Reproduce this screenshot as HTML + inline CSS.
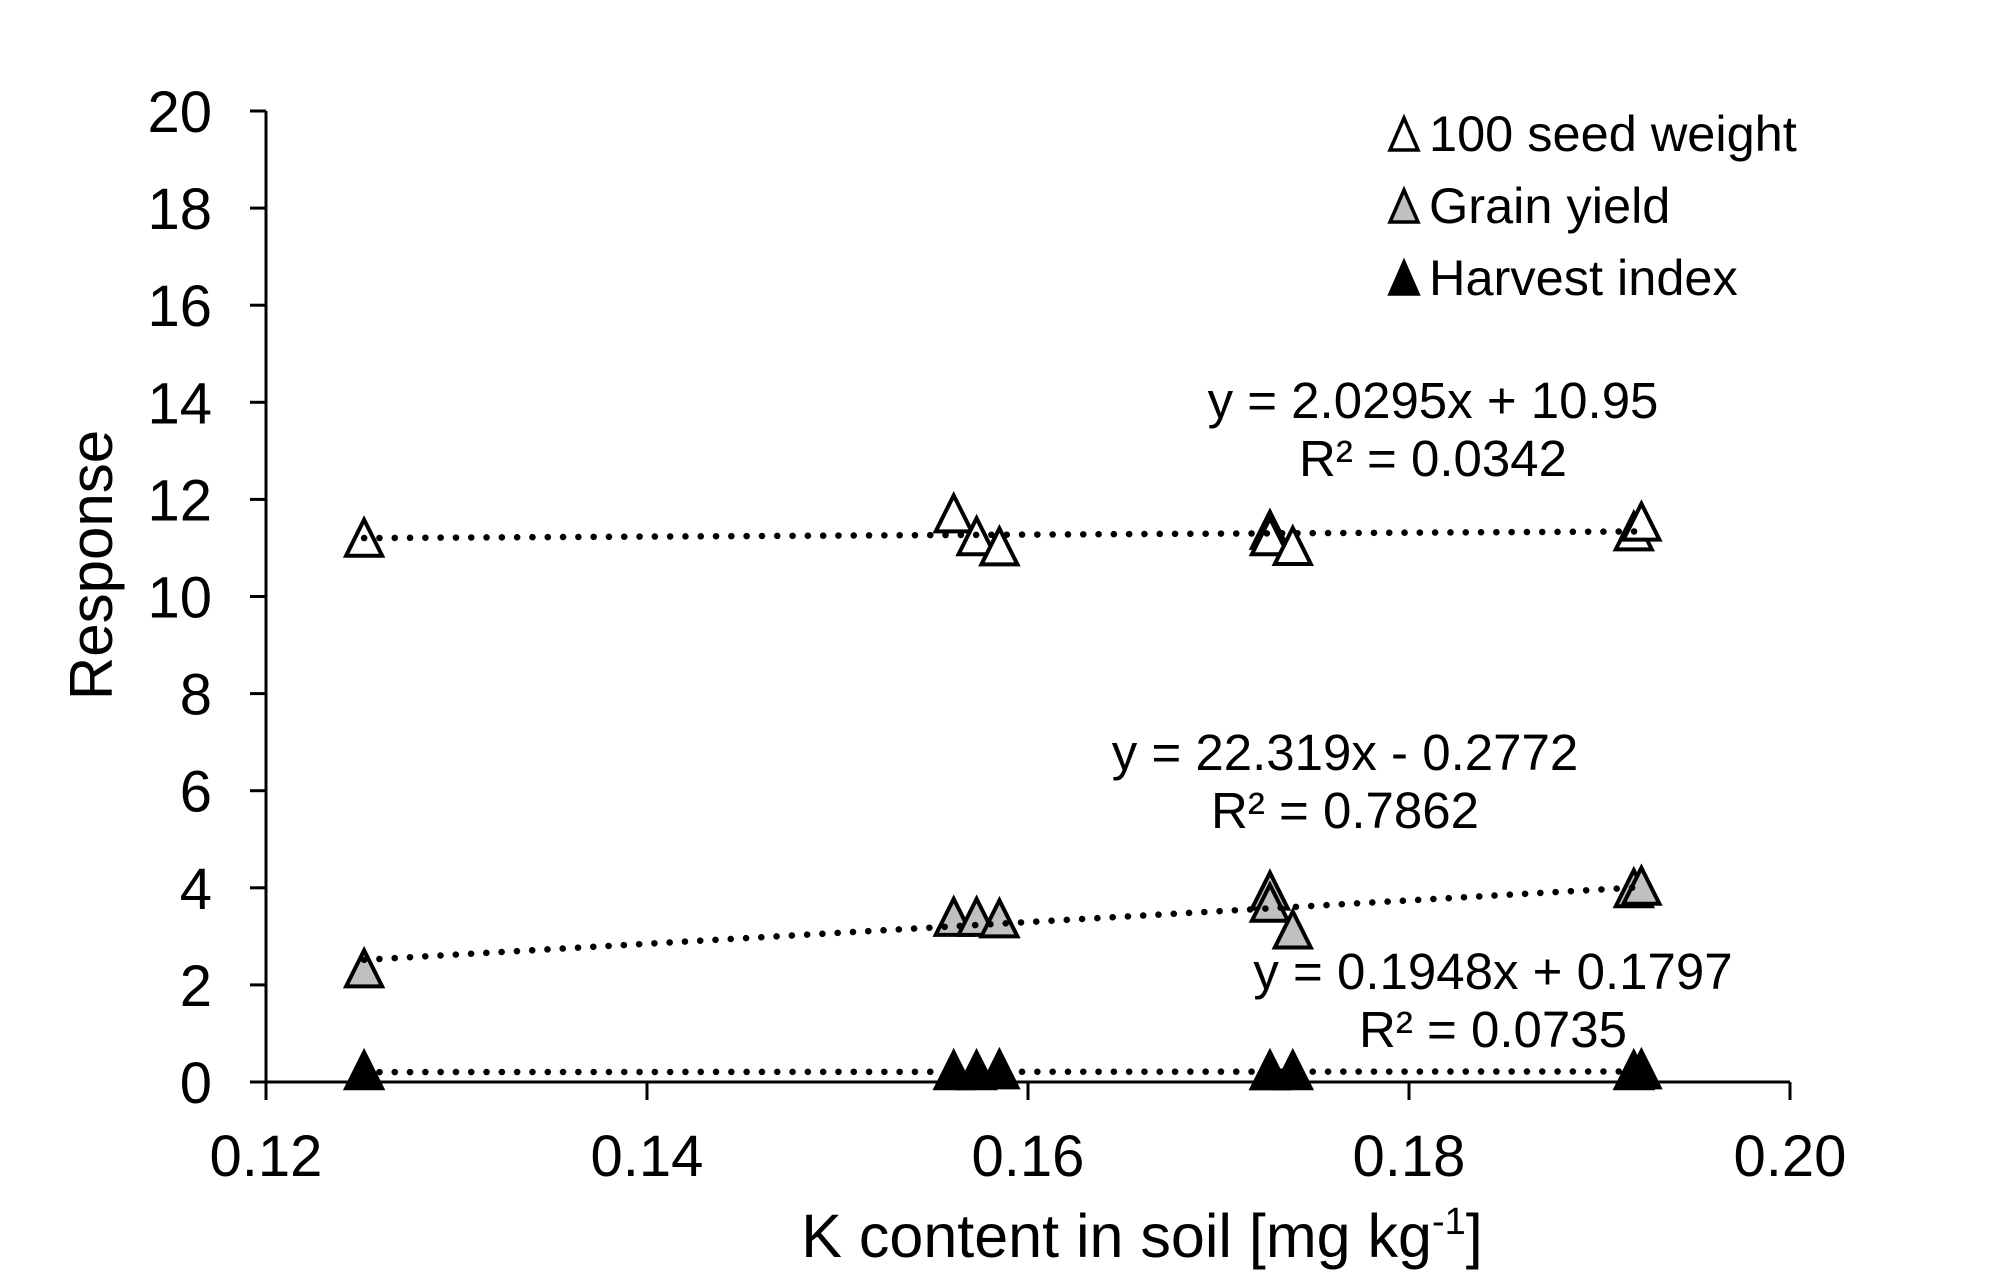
<!DOCTYPE html>
<html><head><meta charset="utf-8"><style>
html,body{margin:0;padding:0;background:#fff}
svg{display:block}
text{font-family:"Liberation Sans",Arial,sans-serif;fill:#000}
</style></head><body>
<svg id="chart" width="2000" height="1282" viewBox="0 0 2000 1282">
<g id="axes"></g>
<g id="lines"></g>
<g id="marks"></g>
<text x="96" y="565" font-size="60" text-anchor="middle" transform="rotate(-90 96 565)" dominant-baseline="middle">Response</text>
<text x="1142" y="1257" font-size="61" text-anchor="middle">K content in soil [mg kg<tspan font-size="38" dy="-23">-1</tspan><tspan dy="23">]</tspan></text>
<g>
 <polygon points="1404,118 1390,150 1418,150" fill="#fff" stroke="#000" stroke-width="3.5"/>
 <text x="1429" y="151" font-size="50.5">100 seed weight</text>
 <polygon points="1404,190 1390,222 1418,222" fill="#c0c0c0" stroke="#000" stroke-width="3.5"/>
 <text x="1429" y="223" font-size="50.5">Grain yield</text>
 <polygon points="1404,262 1390,294 1418,294" fill="#000" stroke="#000" stroke-width="3.5"/>
 <text x="1429" y="295" font-size="50.5">Harvest index</text>
</g>
<g font-size="51" text-anchor="middle">
 <text x="1433" y="418">y = 2.0295x + 10.95</text>
 <text x="1433" y="476">R² = 0.0342</text>
 <text x="1345" y="770">y = 22.319x - 0.2772</text>
 <text x="1345" y="828">R² = 0.7862</text>
 <text x="1493" y="989">y = 0.1948x + 0.1797</text>
 <text x="1493" y="1047">R² = 0.0735</text>
</g>
</svg>
<script>
const xValues = [0.12515, 0.1561, 0.1573, 0.1585, 0.1727, 0.1727, 0.1739, 0.1918, 0.1922];
const seedWeight = [11.17, 11.67, 11.2, 10.99, 11.33, 11.2, 11.0, 11.3, 11.5];
const grainYield = [2.3, 3.36, 3.36, 3.33, 3.9, 3.65, 3.1, 3.95, 4.0];
const harvestIndex = [0.2, 0.2, 0.2, 0.22, 0.2, 0.2, 0.2, 0.2, 0.22];
const xTicks = [0.12, 0.14, 0.16, 0.18, 0.20];
const xTickLabels = ["0.12", "0.14", "0.16", "0.18", "0.20"];
const yTicks = [0, 2, 4, 6, 8, 10, 12, 14, 16, 18, 20];
const trendSlopes = [2.0295, 22.319, 0.1948];
const trendIntercepts = [10.95, -0.2772, 0.1797];

const NS = "http://www.w3.org/2000/svg";
const X0 = 266, X1 = 1790, Y0 = 1082, Y1 = 111;
const xScale = v => X0 + (v - 0.12) / 0.08 * (X1 - X0);
const yScale = v => Y0 - v / 20 * (Y0 - Y1);
function mk(tag, attrs, parent) {
  const e = document.createElementNS(NS, tag);
  for (const k in attrs) e.setAttribute(k, attrs[k]);
  parent.appendChild(e);
  return e;
}
const axes = document.getElementById('axes');
let e = mk('line', {x1: X0, y1: Y1, x2: X0, y2: Y0, stroke: '#000', 'stroke-width': 3}, axes);


e = mk('line', {x1: X0 - 16, y1: Y0, x2: X1, y2: Y0, stroke: '#000', 'stroke-width': 3}, axes);


yTicks.forEach(t => {
  const y = yScale(t);
  let l = mk('line', {x1: X0 - 16, y1: y, x2: X0, y2: y, stroke: '#000', 'stroke-width': 3}, axes);
  
  
  let tx = mk('text', {x: 212, y: y + 21, 'font-size': 58, 'text-anchor': 'end'}, axes);
  tx.textContent = String(t);
  
  
});
xTicks.forEach((t, i) => {
  const x = xScale(t);
  let l = mk('line', {x1: x, y1: Y0, x2: x, y2: Y0 + 18, stroke: '#000', 'stroke-width': 3}, axes);
  
  
  let tx = mk('text', {x: x, y: 1176, 'font-size': 58, 'text-anchor': 'middle'}, axes);
  tx.textContent = xTickLabels[i];
  
  
});
const marks = document.getElementById('marks');
const series = [[seedWeight, '#fff', 'seed-weight'], [grainYield, '#c0c0c0', 'grain-yield'], [harvestIndex, '#000', 'harvest-index']];
series.forEach(([vals, fill, name]) => {
  vals.forEach((v, i) => {
    const cx = xScale(xValues[i]), cy = yScale(v);
    const p = mk('polygon', {points: `${cx},${cy - 20} ${cx - 18},${cy + 16} ${cx + 18},${cy + 16}`, fill: fill, stroke: '#000', 'stroke-width': 4, 'stroke-linejoin': 'miter'}, marks);
    
    
  });
});
const lines = document.getElementById('lines');
const xmin = Math.min(...xValues), xmax = Math.max(...xValues);
['seed-weight', 'grain-yield', 'harvest-index'].forEach((name, i) => {
  const l = mk('line', {x1: xScale(xmin), y1: yScale(trendSlopes[i] * xmin + trendIntercepts[i]),
    x2: xScale(xmax), y2: yScale(trendSlopes[i] * xmax + trendIntercepts[i]),
    stroke: '#000', 'stroke-width': 6.5, 'stroke-linecap': 'round', 'stroke-dasharray': '0.1 15.2'}, lines);
  
  
});
document.getElementById('chart').appendChild(lines);
</script>
</body></html>
